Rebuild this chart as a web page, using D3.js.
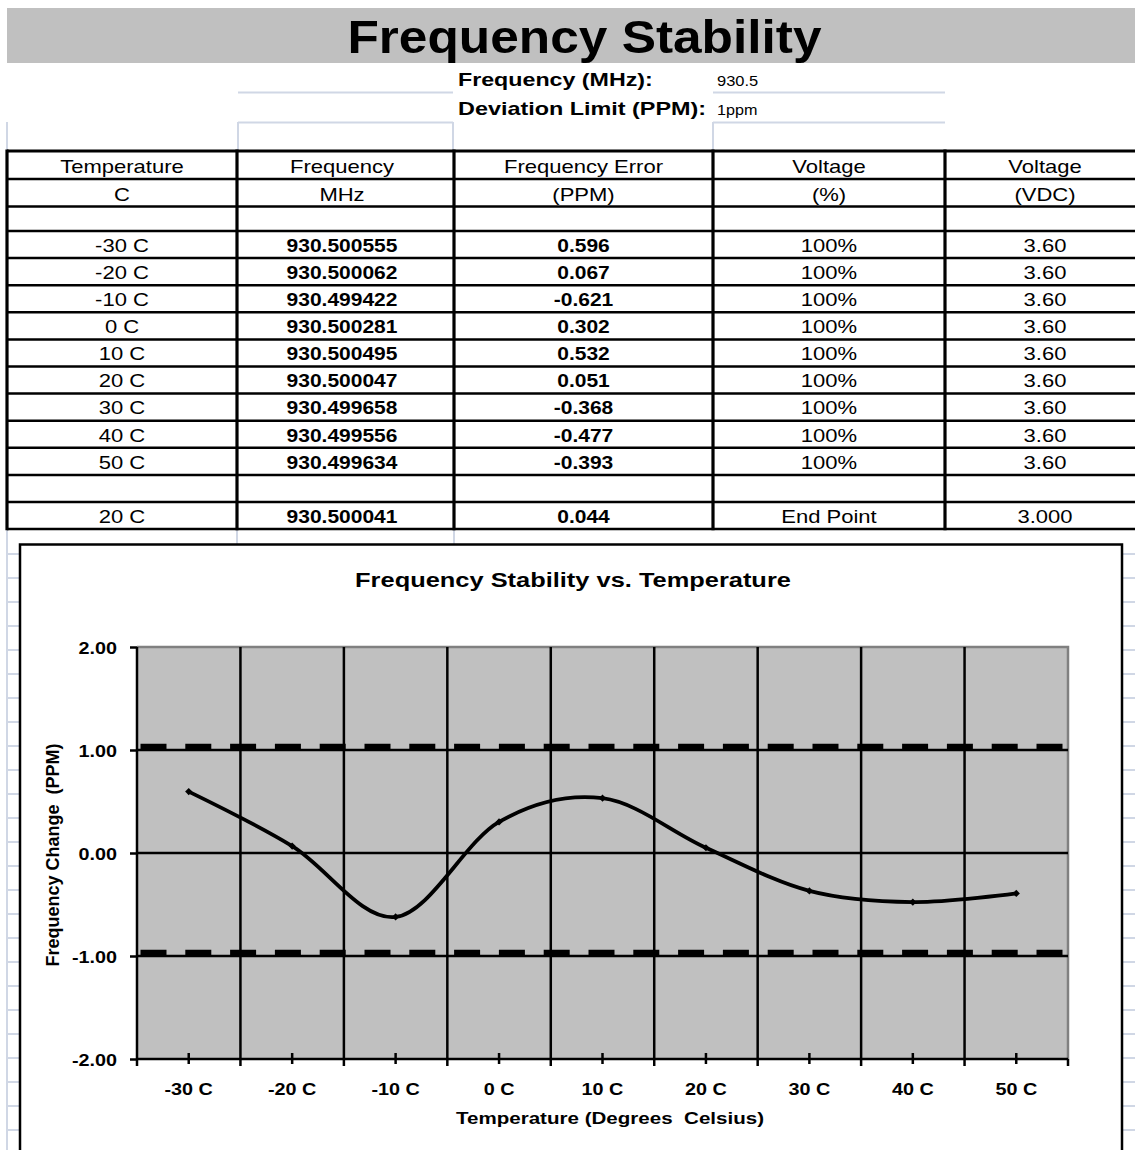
<!DOCTYPE html>
<html>
<head>
<meta charset="utf-8">
<script src="https://cdn.jsdelivr.net/npm/d3@7/dist/d3.min.js"></script>
<style>
  html, body { margin: 0; padding: 0; background: #ffffff; }
  svg { display: block; }
  text { font-family: "Liberation Sans", Arial, Helvetica, sans-serif; fill: #000; }
</style>
</head>
<body>
<svg id="sheet" width="1135" height="1150"></svg>
<script>
// ---- Test data -------------------------------------------------------------
const temperatures = ["-30 C", "-20 C", "-10 C", "0 C", "10 C", "20 C", "30 C", "40 C", "50 C"];
const frequenciesMHz = [930.500555, 930.500062, 930.499422, 930.500281, 930.500495, 930.500047, 930.499658, 930.499556, 930.499634];
const errorsPPM = [0.596, 0.067, -0.621, 0.302, 0.532, 0.051, -0.368, -0.477, -0.393];
const voltagePercent = [100, 100, 100, 100, 100, 100, 100, 100, 100];
const voltageVDC = [3.60, 3.60, 3.60, 3.60, 3.60, 3.60, 3.60, 3.60, 3.60];
const endPointRow = ["20 C", "930.500041", "0.044", "End Point", "3.000"];

const headerNames = ["Temperature", "Frequency", "Frequency Error", "Voltage", "Voltage"];
const headerUnits = ["C", "MHz", "(PPM)", "(%)", "(VDC)"];
const boldColumns = [false, true, true, false, false];

const nominalFrequency = "930.5";
const deviationLimit = "1ppm";
const limitLines = [1, -1];
const yTickValues = [-2, -1, 0, 1, 2];

// ---- Helpers ---------------------------------------------------------------
const svg = d3.select("#sheet");

function label(g, x, y, str, o) {
  const opt = Object.assign({ size: 17, weight: "normal", sx: 1, anchor: "start", rotate: 0 }, o || {});
  return g.append("text")
    .attr("transform", `translate(${x},${y}) rotate(${opt.rotate}) scale(${opt.sx},1)`)
    .attr("text-anchor", opt.anchor)
    .attr("font-size", opt.size)
    .attr("font-weight", opt.weight)
    .style("white-space", "pre")
    .text(str);
}

const gridBlue = "#d0d7e5";

// ---- Spreadsheet background grid ------------------------------------------
const bg = svg.append("g");
const lightSegs = [
  [238, 92.5, 453, 92.5], [713, 92.5, 945, 92.5],
  [238, 122.5, 453, 122.5], [713, 122.5, 945, 122.5],
  [7, 122, 7, 151], [238, 122, 238, 151], [453, 122, 453, 151], [713, 122, 713, 151],
  [7, 529, 7, 1150], [237, 529, 237, 545], [454, 529, 454, 545]
];
for (let yy = 554; yy < 1150; yy += 24) {
  lightSegs.push([7, yy, 20, yy]);
  lightSegs.push([1122, yy, 1135, yy]);
}
bg.selectAll("line").data(lightSegs).join("line")
  .attr("x1", d => d[0]).attr("y1", d => d[1]).attr("x2", d => d[2]).attr("y2", d => d[3])
  .attr("stroke", gridBlue).attr("stroke-width", 2);

// ---- Title band ------------------------------------------------------------
svg.append("rect").attr("x", 7).attr("y", 8).attr("width", 1128).attr("height", 55).attr("fill", "#c0c0c0");
label(svg, 584.5, 53, "Frequency Stability", { size: 45.5, weight: "bold", sx: 1.13, anchor: "middle" });

// ---- Test parameters -------------------------------------------------------
label(svg, 458, 86, "Frequency (MHz):", { size: 18, weight: "bold", sx: 1.29 });
label(svg, 458, 114.5, "Deviation Limit (PPM):", { size: 18, weight: "bold", sx: 1.3 });
label(svg, 717, 86, nominalFrequency, { size: 15.4, sx: 1.07 });
label(svg, 717, 114.5, deviationLimit, { size: 15.4, sx: 1.05 });

// ---- Data table ------------------------------------------------------------
const colX = [7, 237, 454, 713, 945, 1145];
const colCenter = [122, 342, 583.5, 829, 1045];
const rowH = 27.1;
const rowY = [151, 179, 206.5, 231];
for (let i = 1; i <= 11; i++) rowY.push(231 + i * rowH);

const tableRows = [];
tableRows.push({ cells: headerNames, bold: [false, false, false, false, false], top: rowY[0] });
tableRows.push({ cells: headerUnits, bold: [false, false, false, false, false], top: rowY[1] });
temperatures.forEach((t, i) => {
  tableRows.push({
    cells: [t, frequenciesMHz[i].toFixed(6), errorsPPM[i].toFixed(3), voltagePercent[i] + "%", voltageVDC[i].toFixed(2)],
    bold: boldColumns, top: rowY[3 + i]
  });
});
tableRows.push({ cells: endPointRow, bold: boldColumns, top: rowY[13] });

const tbl = svg.append("g");
tbl.selectAll("line.h").data(rowY).join("line").attr("class", "h")
  .attr("x1", 7).attr("x2", 1135).attr("y1", d => d).attr("y2", d => d)
  .attr("stroke", "#000").attr("stroke-width", (d, i) => i === 0 ? 3 : 2.5);
tbl.selectAll("line.v").data(colX.slice(0, 5)).join("line").attr("class", "v")
  .attr("x1", d => d).attr("x2", d => d).attr("y1", rowY[0] - 1.5).attr("y2", rowY[rowY.length - 1] + 1.2)
  .attr("stroke", "#000").attr("stroke-width", 3.2);

tableRows.forEach(r => {
  r.cells.forEach((c, j) => {
    const base = r.top + (r.top < 205 ? 21.5 : 20.8);
    label(tbl, colCenter[j], base, c, {
      size: r.bold[j] ? 17.5 : 18.5, weight: r.bold[j] ? "bold" : "normal",
      sx: r.bold[j] ? 1.2 : 1.19, anchor: "middle"
    });
  });
});

// ---- Chart -----------------------------------------------------------------
svg.append("rect").attr("x", 20).attr("y", 544.5).attr("width", 1102).attr("height", 700)
  .attr("fill", "#fff").attr("stroke", "#000").attr("stroke-width", 2.5);

const plot = { left: 137, right: 1068, top: 647, bottom: 1059 };
const x = d3.scaleBand().domain(temperatures).range([plot.left, plot.right]).paddingInner(0).paddingOuter(0);
const y = d3.scaleLinear().domain([-2, 2]).range([plot.bottom, plot.top]);
const cx = t => x(t) + x.bandwidth() / 2;

const ch = svg.append("g");
ch.append("rect").attr("x", plot.left).attr("y", plot.top)
  .attr("width", plot.right - plot.left).attr("height", plot.bottom - plot.top).attr("fill", "#c0c0c0");
// frame (top and right edges)
ch.append("path")
  .attr("d", `M${plot.left},${plot.top}H${plot.right}V${plot.bottom}`)
  .attr("fill", "none").attr("stroke", "#808080").attr("stroke-width", 2.5);

// vertical gridlines at category boundaries
const boundaries = temperatures.slice(1).map(t => x(t));
ch.selectAll("line.vg").data(boundaries).join("line").attr("class", "vg")
  .attr("x1", d => d).attr("x2", d => d).attr("y1", plot.top).attr("y2", plot.bottom)
  .attr("stroke", "#000").attr("stroke-width", 2.5);
// horizontal gridlines
ch.selectAll("line.hg").data(yTickValues.filter(v => v > -2 && v < 2)).join("line").attr("class", "hg")
  .attr("x1", plot.left).attr("x2", plot.right).attr("y1", d => y(d)).attr("y2", d => y(d))
  .attr("stroke", "#000").attr("stroke-width", 2.5);

// deviation limit lines
ch.selectAll("line.lim").data(limitLines).join("line").attr("class", "lim")
  .attr("x1", plot.left + 3.5).attr("x2", plot.right).attr("y1", d => y(d) - 3).attr("y2", d => y(d) - 3)
  .attr("stroke", "#000").attr("stroke-width", 6.5).attr("stroke-dasharray", "26,18.8");

// axes
const yAxis = d3.axisLeft(y).tickValues(yTickValues).tickSize(7).tickFormat(() => "");
ch.append("g").attr("transform", `translate(${plot.left},0)`).call(yAxis)
  .call(g => g.selectAll("path,line").attr("stroke", "#000").attr("stroke-width", 2.5))
  .call(g => g.select(".domain").attr("d", `M0,${plot.top}V${plot.bottom}`));
yTickValues.forEach(v => label(ch, 117, y(v) + 6.5, v.toFixed(2), { size: 16.5, weight: "bold", sx: 1.2, anchor: "end" }));

const xAxisG = ch.append("g");
xAxisG.append("line").attr("x1", plot.left).attr("x2", plot.right).attr("y1", plot.bottom).attr("y2", plot.bottom)
  .attr("stroke", "#000").attr("stroke-width", 2.5);
const edgeTicks = temperatures.map(t => x(t)).concat([plot.right]);
xAxisG.selectAll("line.et").data(edgeTicks).join("line").attr("class", "et")
  .attr("x1", d => d).attr("x2", d => d).attr("y1", plot.bottom).attr("y2", plot.bottom + 7)
  .attr("stroke", "#000").attr("stroke-width", 2.5);
xAxisG.selectAll("line.ct").data(temperatures).join("line").attr("class", "ct")
  .attr("x1", d => cx(d)).attr("x2", d => cx(d)).attr("y1", plot.bottom - 6).attr("y2", plot.bottom + 5)
  .attr("stroke", "#000").attr("stroke-width", 2.5);
temperatures.forEach(t => label(ch, cx(t), 1095, t, { size: 16.5, weight: "bold", sx: 1.2, anchor: "middle" }));

// data series
const line = d3.line().x((d, i) => cx(temperatures[i])).y(d => y(d)).curve(d3.curveCardinal.tension(0));
ch.append("path").datum(errorsPPM).attr("d", line)
  .attr("fill", "none").attr("stroke", "#000").attr("stroke-width", 3.8).attr("stroke-linejoin", "round");
const marker = d3.symbol(d3.symbolSquare, 26);
ch.selectAll("path.mk").data(errorsPPM).join("path").attr("class", "mk")
  .attr("d", marker)
  .attr("transform", (d, i) => `translate(${cx(temperatures[i])},${y(d)}) rotate(45)`)
  .attr("fill", "#000");

// titles
label(ch, 573, 587, "Frequency Stability vs. Temperature", { size: 20.5, weight: "bold", sx: 1.24, anchor: "middle" });
label(ch, 610, 1124, "Temperature (Degrees  Celsius)", { size: 17, weight: "bold", sx: 1.21, anchor: "middle" });
label(ch, 59, (plot.top + plot.bottom) / 2 + 2, "Frequency Change  (PPM)", { size: 18, weight: "bold", sx: 1, anchor: "middle", rotate: -90 });
</script>
</body>
</html>
